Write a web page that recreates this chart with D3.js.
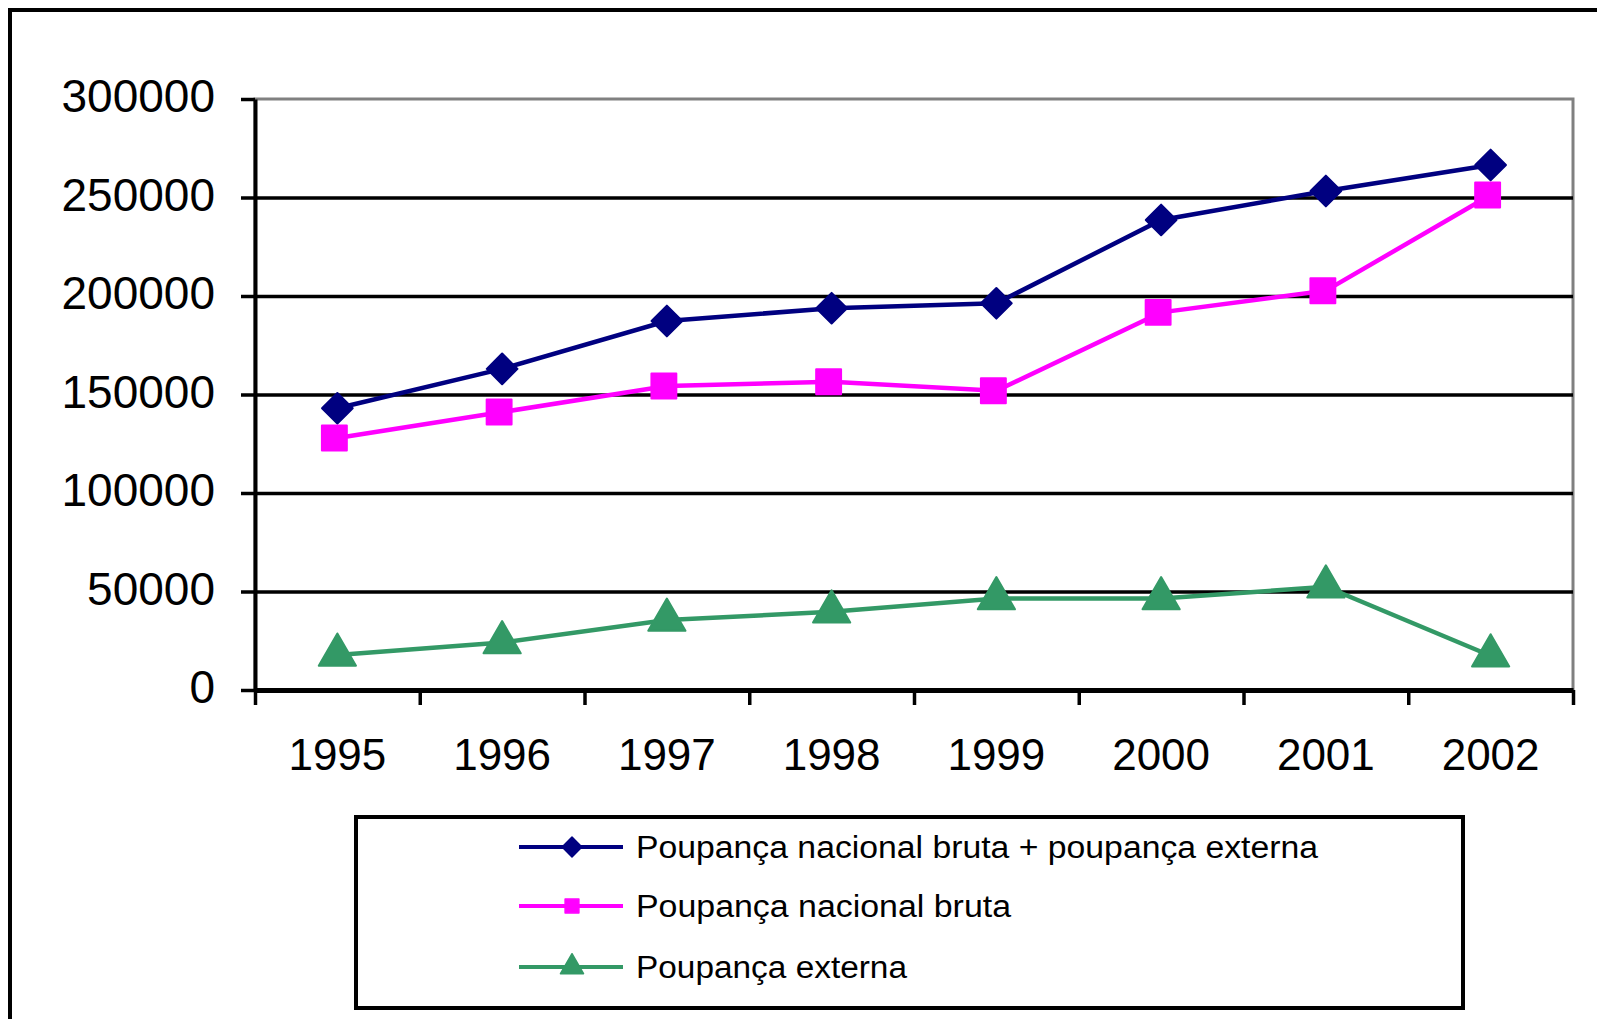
<!DOCTYPE html>
<html>
<head>
<meta charset="utf-8">
<script src="https://cdn.jsdelivr.net/npm/d3@7"></script>
<style>
  body { margin: 0; background: #fff; overflow: hidden; }
  svg { display: block; font-family: "Liberation Sans", Arial, sans-serif; }
</style>
</head>
<body>
<svg id="chart" width="1597" height="1019"></svg>
<script>
"use strict";

// data
const years = ["1995", "1996", "1997", "1998", "1999", "2000", "2001", "2002"];
const totalSavings = [143000, 163000, 187300, 193800, 196300, 238600, 253300, 266500];
const nationalSavings = [127900, 141100, 154300, 156500, 151900, 191700, 202700, 251300];
const externalSavings = [17800, 24100, 35500, 39700, 46400, 46400, 52400, 17400];
const yTicks = [0, 50000, 100000, 150000, 200000, 250000, 300000];
const seriesNames = [
    "Poupança nacional bruta + poupança externa",
    "Poupança nacional bruta",
    "Poupança externa",
];

const COLORS = ["#000080", "#ff00ff", "#339966"];
const SHAPES = [d3.symbolDiamond2, d3.symbolSquare, d3.symbolTriangle];

const plotLeft = 255;
const plotRight = 1573;
const plotTop = 99;
const plotBottom = 690;

const svg = d3.select("#chart");

// outer frame, runs past the window on the right and bottom
svg.append("rect")
    .attr("x", 10).attr("y", 10)
    .attr("width", 1640).attr("height", 1060)
    .attr("fill", "none").attr("stroke", "#000").attr("stroke-width", 4);

const x = d3.scaleBand().domain(years).range([plotLeft, plotRight]);
const xEdges = d3.scaleLinear().domain([0, years.length]).range([plotLeft, plotRight]);
const y = d3.scaleLinear().domain([0, 300000]).range([plotBottom, plotTop]);

// plot area border (grey top / right)
svg.append("rect")
    .attr("x", plotLeft).attr("y", plotTop)
    .attr("width", plotRight - plotLeft).attr("height", plotBottom - plotTop)
    .attr("fill", "none").attr("stroke", "#808080").attr("stroke-width", 3);

// gridlines
const grid = svg.append("g")
    .attr("transform", `translate(${plotLeft},0)`)
    .call(d3.axisLeft(y).tickValues(yTicks.filter((t) => t > 0 && t < 300000))
        .tickSize(-(plotRight - plotLeft)).tickFormat(""));
grid.select(".domain").remove();
grid.selectAll("line").attr("stroke", "#000").attr("stroke-width", 3.5);

// y axis
const yAxis = svg.append("g")
    .attr("transform", `translate(${plotLeft},0)`)
    .call(d3.axisLeft(y).tickValues(yTicks).tickSize(14).tickSizeOuter(0).tickPadding(26)
        .tickFormat(d3.format("d")));
yAxis.select(".domain").attr("stroke", "#000").attr("stroke-width", 4);
yAxis.selectAll("line").attr("stroke", "#000").attr("stroke-width", 3.5);
yAxis.selectAll("text")
    .attr("font-size", 46).attr("fill", "#000")
    .attr("font-family", "Liberation Sans, Arial, sans-serif")
    .attr("dy", "0.28em");

// x axis
const xAxis = svg.append("g")
    .attr("transform", `translate(0,${plotBottom})`)
    .call(d3.axisBottom(xEdges).tickValues(d3.range(years.length + 1))
        .tickSize(15).tickSizeOuter(0).tickFormat(""));
xAxis.select(".domain").attr("stroke", "#000").attr("stroke-width", 5);
xAxis.selectAll("line").attr("stroke", "#000").attr("stroke-width", 3.5);

svg.append("g").selectAll("text")
    .data(years)
    .join("text")
    .attr("x", (d) => x(d) + x.bandwidth() / 2)
    .attr("y", 770)
    .attr("text-anchor", "middle")
    .attr("font-size", 44)
    .text((d) => d);

// series
const allSeries = [totalSavings, nationalSavings, externalSavings];
const line = d3.line()
    .x((d, i) => x(years[i]) + x.bandwidth() / 2)
    .y((d) => y(d));

allSeries.forEach((values, s) => {
    svg.append("path")
        .datum(values)
        .attr("fill", "none")
        .attr("stroke", COLORS[s])
        .attr("stroke-width", 4.5)
        .attr("d", line);
});

const markerSize = [600, 620, 600];
allSeries.forEach((values, s) => {
    svg.append("g").selectAll("path")
        .data(values)
        .join("path")
        .attr("transform", (d, i) => `translate(${x(years[i]) + x.bandwidth() / 2 - (s === 1 ? 3 : 0)},${y(d)})`)
        .attr("d", d3.symbol().type(SHAPES[s]).size(markerSize[s]))
        .attr("fill", COLORS[s])
        .attr("stroke", COLORS[s])
        .attr("stroke-width", 2)
        .attr("stroke-linejoin", "round");
});

// legend
const legend = svg.append("g");
legend.append("rect")
    .attr("x", 356).attr("y", 817)
    .attr("width", 1107).attr("height", 191)
    .attr("fill", "#fff").attr("stroke", "#000").attr("stroke-width", 4);

const rowY = [847, 906, 967];
const textWidths = [682, 375, 271];
const legendSize = [250, 190, 230];
seriesNames.forEach((name, s) => {
    const g = legend.append("g").attr("transform", `translate(0,${rowY[s]})`);
    g.append("line")
        .attr("x1", 519).attr("x2", 623)
        .attr("stroke", COLORS[s]).attr("stroke-width", 4);
    g.append("path")
        .attr("transform", "translate(572,0)")
        .attr("d", d3.symbol().type(SHAPES[s]).size(legendSize[s]))
        .attr("fill", COLORS[s])
        .attr("stroke", COLORS[s])
        .attr("stroke-width", 1.5)
        .attr("stroke-linejoin", "round");
    g.append("text")
        .attr("x", 636)
        .attr("y", 11)
        .attr("font-size", 31)
        .attr("textLength", textWidths[s])
        .attr("lengthAdjust", "spacingAndGlyphs")
        .text(name);
});
</script>
</body>
</html>
